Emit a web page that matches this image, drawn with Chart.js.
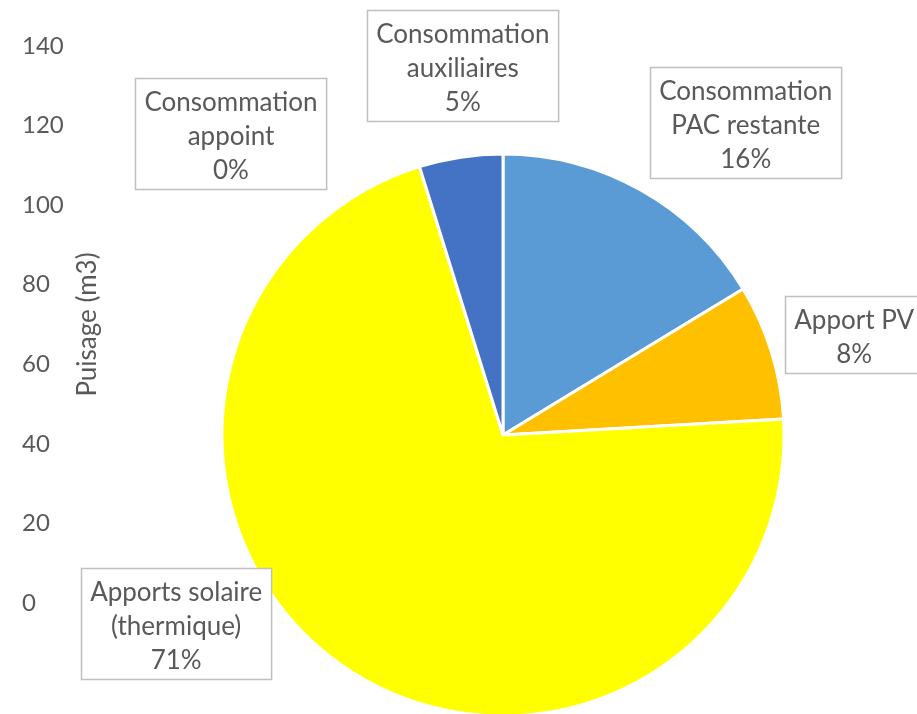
<!DOCTYPE html>
<html>
<head>
<meta charset="utf-8">
<script src="https://cdn.jsdelivr.net/npm/chart.js@4.4.1/dist/chart.umd.min.js"></script>
<style>
  html, body { margin: 0; padding: 0; background: #fff; overflow: hidden; }
  #wrap { position: relative; width: 917px; height: 714px; overflow: hidden; }
  #wrap canvas { position: absolute; left: 0; top: 0; }
</style>
</head>
<body>
<div id="wrap">
  <canvas id="axisChart" width="917" height="714"></canvas>
  <canvas id="pieChart" width="917" height="870"></canvas>
</div>
<script>
// slices, clockwise from 12 o'clock
const categories = ["Consommation PAC restante", "Apport PV", "Apports solaire (thermique)", "Consommation appoint", "Consommation auxiliaires"];
const labelLines = [["Consommation", "PAC restante"], ["Apport PV"], ["Apports solaire", "(thermique)"], ["Consommation", "appoint"], ["Consommation", "auxiliaires"]];
const shares = [16.3, 7.8, 71.1, 0, 4.8];
const sliceColors = ["#5B9BD5", "#FFC000", "#FFFF00", "#A5A5A5", "#4472C4"];

// leftover value axis
const axisMin = 0;
const axisMax = 140;
const axisStep = 20;
const axisTitle = "Puisage (m3)";

// where each callout box sits, in pie radii from the centre
const labelAnchors = [[0.864, -1.111], [1.25, -0.357], [-1.163, 0.67], [-0.968, -1.073], [-0.143, -1.316]];

const FONT = "Lato";
const textGrey = "#595959";

new Chart(document.getElementById("axisChart"), {
    type: "scatter",
    data: { datasets: [] },
    options: {
        responsive: false,
        animation: false,
        layout: { padding: { left: 22, top: 46, bottom: 111, right: 0 } },
        plugins: { legend: { display: false }, tooltip: { enabled: false } },
        scales: {
            x: { display: false },
            y: {
                position: "left",
                weight: 1,
                min: axisMin,
                max: axisMax,
                ticks: { stepSize: axisStep, crossAlign: "far", color: textGrey, font: { family: FONT, size: 24 }, padding: 4 },
                grid: { display: false, drawTicks: false },
                border: { display: false }
            },
            y2: {
                type: "linear",
                position: "left",
                weight: 0,
                ticks: { display: false },
                grid: { display: false, drawTicks: false },
                border: { display: false },
                title: { display: true, text: axisTitle, color: textGrey, font: { family: FONT, size: 26 }, padding: { top: 0, bottom: 0 } }
            }
        }
    }
});

// draws the boxed data labels
const calloutPlugin = {
    id: "callouts",
    afterDatasetsDraw(chart) {
        const ctx = chart.ctx;
        const meta = chart.getDatasetMeta(0);
        const total = shares.reduce((a, b) => a + b, 0);
        ctx.save();
        ctx.font = "26px " + FONT;
        meta.data.forEach((arc, i) => {
            const r = arc.outerRadius;
            const lines = labelLines[i].concat([Math.round(shares[i] / total * 100) + "%"]);
            const w = Math.max(...lines.map(t => ctx.measureText(t).width)) + 18;
            const h = lines.length * 34 + 9;
            const cx = arc.x + labelAnchors[i][0] * r;
            const cy = arc.y + labelAnchors[i][1] * r;
            const left = Math.round(cx - w / 2) + 0.5;
            const top = Math.round(cy - h / 2) + 0.5;
            ctx.fillStyle = "#fff";
            ctx.fillRect(left, top, w, h);
            ctx.strokeStyle = "#BFBFBF";
            ctx.lineWidth = 1.5;
            ctx.strokeRect(left, top, w, h);
            ctx.fillStyle = textGrey;
            ctx.textAlign = "center";
            ctx.textBaseline = "middle";
            lines.forEach((t, j) => ctx.fillText(t, cx, top + 24 + j * 34));
        });
        ctx.restore();
    }
};

new Chart(document.getElementById("pieChart"), {
    type: "pie",
    data: {
        labels: categories,
        datasets: [{
            data: shares,
            backgroundColor: sliceColors,
            borderColor: "#fff",
            borderWidth: 3,
            hoverOffset: 0,
            radius: 281
        }]
    },
    options: {
        responsive: false,
        animation: false,
        events: [],
        layout: { padding: { left: 89, right: 0, top: 0, bottom: 0 } },
        plugins: { legend: { display: false }, tooltip: { enabled: false } }
    },
    plugins: [calloutPlugin]
});
</script>
</body>
</html>
